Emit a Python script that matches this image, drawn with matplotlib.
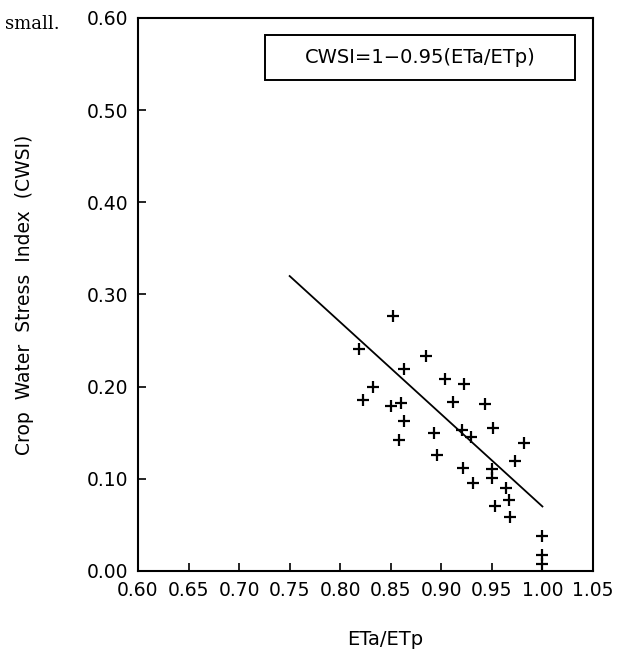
import numpy as np
import matplotlib.pyplot as plt
from matplotlib.patches import Rectangle

eta_etp = [0.852, 0.819, 0.885, 0.863, 0.904, 0.922, 0.832, 0.823, 0.912, 0.943,
           0.850, 0.860, 0.863, 0.951, 0.893, 0.920, 0.929, 0.858, 0.982, 0.896,
           0.973, 0.921, 0.950, 0.950, 0.931, 0.964, 0.967, 0.953, 0.968, 1.000,
           1.000, 1.000]
cwsi = [0.277, 0.241, 0.233, 0.219, 0.208, 0.203, 0.200, 0.186, 0.183, 0.181,
        0.179, 0.182, 0.163, 0.155, 0.150, 0.153, 0.145, 0.142, 0.139, 0.126,
        0.119, 0.112, 0.111, 0.101, 0.096, 0.090, 0.077, 0.071, 0.059, 0.038,
        0.017, 0.008]

# fitted line as drawn
fit_x = [0.75, 1.00]
fit_y = [0.320, 0.070]

xticks = np.arange(0.60, 1.051, 0.05)
yticks = np.arange(0.0, 0.601, 0.10)

plt.rcParams['font.family'] = 'DejaVu Sans'

fig = plt.figure(figsize=(6.18, 6.49), dpi=100)
ax = fig.add_axes([0.2233, 0.1202, 0.7362, 0.8521])

ax.plot(fit_x, fit_y, color='black', lw=1.3)
ax.plot(eta_etp, cwsi, '+', color='black', ms=9, mew=1.6)

ax.set_xlim(0.60, 1.05)
ax.set_ylim(0.0, 0.60)
ax.set_xticks(xticks)
ax.set_yticks(yticks)
ax.set_xticklabels([f'{v:.2f}' for v in xticks])
ax.set_yticklabels([f'{v:.2f}' for v in yticks])
ax.tick_params(direction='in', length=6, width=1.2, labelsize=13.5, pad=7,
               top=False, right=False)
for s in ax.spines.values():
    s.set_linewidth(1.5)

ax.set_xlabel('ETa/ETp', fontsize=14, labelpad=22, x=0.543)
ax.set_ylabel('Crop  Water  Stress  Index  (CWSI)', fontsize=13.5, labelpad=38)

# equation box
ax.add_patch(Rectangle((0.279, 0.888), 0.681, 0.081, transform=ax.transAxes,
                       fc='white', ec='black', lw=1.4, zorder=3))
ax.text(0.62, 0.928, 'CWSI=1\u22120.95(ETa/ETp)', transform=ax.transAxes,
        ha='center', va='center', fontsize=14, zorder=4)

fig.text(0.008, 0.963, 'small.', fontsize=13, family='DejaVu Serif', va='center')

fig.savefig('out.png', dpi=100)
